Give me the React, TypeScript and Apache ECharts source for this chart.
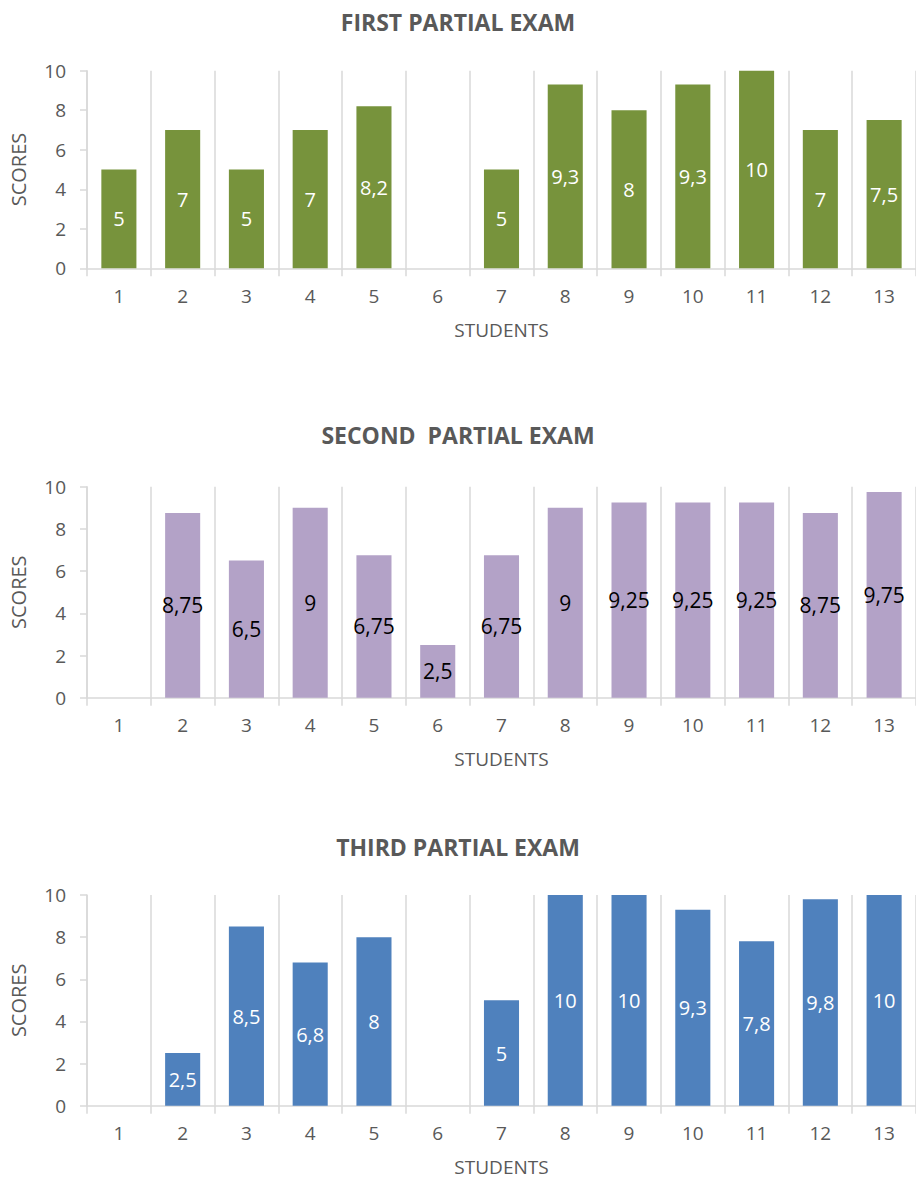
import React, { useEffect, useRef } from "react";
import * as echarts from "echarts";

const students = ["1", "2", "3", "4", "5", "6", "7", "8", "9", "10", "11", "12", "13"];
const firstScores = [5, 7, 5, 7, 8.2, null, 5, 9.3, 8, 9.3, 10, 7, 7.5];
const secondScores = [null, 8.75, 6.5, 9, 6.75, 2.5, 6.75, 9, 9.25, 9.25, 9.25, 8.75, 9.75];
const thirdScores = [null, 2.5, 8.5, 6.8, 8, null, 5, 10, 10, 9.3, 7.8, 9.8, 10];
const titles = ["FIRST PARTIAL EXAM", "SECOND  PARTIAL EXAM", "THIRD PARTIAL EXAM"];
const colors = ["#77933C", "#B3A2C7", "#4F81BD"];
const labelColors = ["#ffffff", "#000000", "#ffffff"];
const xName = "STUDENTS";
const yName = "SCORES";

const FONT = "'Open Sans', sans-serif";
const GRAY = "#595959";
const LINE = "#d9d9d9";

export default function App() {
  const ref = useRef<HTMLDivElement>(null);
  useEffect(() => {
    if (!ref.current) return;
    const chart = echarts.init(ref.current, null, { renderer: "svg" });
    const grids = [
      { top: 70.7, height: 197.6 },
      { top: 486.7, height: 211 },
      { top: 895, height: 210.7 },
    ];
    const titleTops = [5, 418, 830];
    const data = [firstScores, secondScores, thirdScores];
    chart.setOption({
      animation: false,
      backgroundColor: "#ffffff",
      title: titles.map((t, i) => ({
        text: t,
        left: "center",
        top: titleTops[i],
        textStyle: { fontFamily: FONT, fontWeight: "bold", fontSize: 23, color: GRAY },
      })),
      grid: grids.map((g) => ({ left: 87, right: -4.5, top: g.top, height: g.height, containLabel: false })),
      xAxis: grids.map((_, i) => ({
        type: "category",
        gridIndex: i,
        data: students,
        name: xName,
        nameLocation: "middle",
        nameGap: 52,
        nameTextStyle: { fontFamily: FONT, fontSize: 19, color: GRAY },
        axisLine: { show: true, lineStyle: { color: LINE, width: 1.5 } },
        axisTick: { show: true, length: 8, lineStyle: { color: LINE, width: 1.5 } },
        splitLine: { show: true, lineStyle: { color: LINE, width: 1.5 } },
        axisLabel: { fontFamily: FONT, fontSize: 19, color: GRAY, margin: 18 },
      })),
      yAxis: grids.map((_, i) => ({
        type: "value",
        gridIndex: i,
        min: 0,
        max: 10,
        interval: 2,
        name: yName,
        nameLocation: "middle",
        nameGap: 59,
        nameRotate: 90,
        nameTextStyle: { fontFamily: FONT, fontSize: 20, color: GRAY },
        axisLine: { show: true, lineStyle: { color: LINE, width: 1.5 } },
        axisTick: { show: true, length: 7, lineStyle: { color: LINE, width: 1.5 } },
        splitLine: { show: false },
        axisLabel: { fontFamily: FONT, fontSize: 19, color: GRAY, margin: 21 },
      })),
      series: data.map((d, i) => ({
        type: "bar",
        xAxisIndex: i,
        yAxisIndex: i,
        data: d.map((v) => (v === null ? "-" : v)),
        barWidth: "55%",
        itemStyle: { color: colors[i] },
        label: {
          show: true,
          position: "inside",
          color: labelColors[i],
          fontFamily: FONT,
          fontSize: i === 1 ? 21 : 20,
          formatter: (p: any) => String(p.value).replace(".", ","),
        },
      })),
    });
    return () => chart.dispose();
  }, []);
  return (
    <div
      ref={ref}
      style={{ position: "absolute", left: 0, top: 0, width: 916, height: 1179 }}
    />
  );
}
